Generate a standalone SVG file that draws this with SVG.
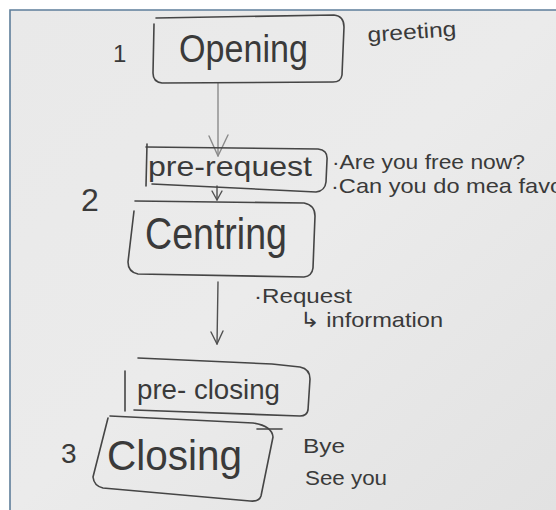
<svg xmlns="http://www.w3.org/2000/svg" width="556" height="510" viewBox="0 0 556 510">
  <defs>
    <linearGradient id="paper" x1="0" y1="0" x2="1" y2="1">
      <stop offset="0" stop-color="#e9e9e9"/>
      <stop offset="0.5" stop-color="#ebebeb"/>
      <stop offset="1" stop-color="#e2e2e2"/>
    </linearGradient>
  </defs>
  <style>
    .box { fill: none; stroke: #454545; stroke-width: 1.6; stroke-linejoin: round; stroke-linecap: round; }
    .line { fill: none; stroke: #505050; stroke-width: 1.4; stroke-linecap: round; stroke-linejoin: round; }
    .faint { stroke: #8a8a8a; }
    .hw { font-family: "Liberation Sans", "DejaVu Sans", sans-serif; fill: #3a3a3a; }
    .big { font-size: 38px; }
    .mid { font-size: 28px; }
    .note { font-size: 21px; }
  </style>
  <rect x="0" y="0" width="556" height="510" fill="#ffffff"/>
  <rect x="10" y="10" width="546" height="500" fill="url(#paper)"/>
  <path d="M10,510 L10,10 L556,10" fill="none" stroke="#5e7e9a" stroke-width="1.6"/>

  <g id="connectors">
    <path class="line faint" d="M218,83 L218,156"/>
    <path class="line faint" d="M209,136 L218,156 L228,135"/>
    <path class="line" d="M217,186 L217,200"/>
    <path class="line" d="M212,191 L217,200 L222,191"/>
    <path class="line" d="M218,282 L217,344"/>
    <path class="line" d="M211,332 L217,344 L223,331"/>
  </g>

  <g id="opening">
    <path class="box" d="M156,18 L334,15 Q344,16 344,27 L342,75 Q341,82 333,82 L162,83 Q153,82 153,73 L154,24"/>
    <text class="hw big" x="179" y="62" textLength="129" lengthAdjust="spacingAndGlyphs">Opening</text>
  </g>
  <text class="hw" font-size="24" x="113" y="62">1</text>
  <text class="hw note" x="368" y="42" textLength="89" lengthAdjust="spacingAndGlyphs" transform="rotate(-4 368 42)">greeting</text>

  <g id="pre-request">
    <path class="box" d="M146,147 L318,149 Q328,150 327,160 L326,182 Q325,191 316,192 L152,184"/>
    <path class="box" d="M147,144 L146,186"/>
    <text class="hw mid" x="148" y="176" textLength="164" lengthAdjust="spacingAndGlyphs">pre-request</text>
  </g>
  <text class="hw note" x="332" y="169" textLength="193" lengthAdjust="spacingAndGlyphs">·Are you free now?</text>
  <text class="hw note" x="331" y="193" textLength="240" lengthAdjust="spacingAndGlyphs">·Can you do mea favor</text>
  <text class="hw" font-size="32" x="81" y="211">2</text>

  <g id="centring">
    <path class="box" d="M135,201 L304,203 Q315,205 315,216 L313,268 Q312,276 304,277 L138,274 Q128,272 128,262 L134,211"/>
    <text class="hw" font-size="44" x="145" y="249" textLength="142" lengthAdjust="spacingAndGlyphs">Centring</text>
  </g>
  <text class="hw note" x="254" y="303" textLength="98" lengthAdjust="spacingAndGlyphs">·Request</text>
  <text class="hw note" x="300" y="327" textLength="143" lengthAdjust="spacingAndGlyphs">↳ information</text>

  <g id="pre-closing">
    <path class="box" d="M138,358 L272,364 L300,367 Q310,369 310,379 L308,410 Q307,416 300,416 L134,410"/>
    <path class="box" d="M125,371 L125,411"/>
    <text class="hw mid" x="137" y="399" textLength="143" lengthAdjust="spacingAndGlyphs">pre- closing</text>
  </g>

  <g id="closing">
    <path class="box" d="M110,416 L253,423 Q272,426 273,437 L261,496 Q259,502 250,501 L103,488 Q94,486 93,477 L108,418"/>
    <path class="box" d="M257,429 L282,429"/>
    <text class="hw" font-size="42" x="107" y="470" textLength="135" lengthAdjust="spacingAndGlyphs">Closing</text>
  </g>
  <text class="hw" font-size="28" x="61" y="463">3</text>
  <text class="hw note" x="303" y="453" textLength="42" lengthAdjust="spacingAndGlyphs">Bye</text>
  <text class="hw note" x="305" y="485" textLength="82" lengthAdjust="spacingAndGlyphs">See you</text>
</svg>
